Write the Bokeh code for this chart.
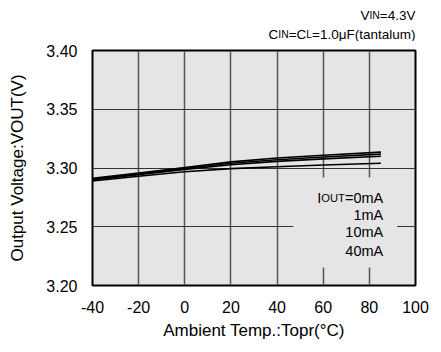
from bokeh.plotting import figure
from bokeh.layouts import column
from bokeh.models import Range1d, FixedTicker, Label
from bokeh.embed import file_html
from bokeh.resources import INLINE

# ---------------- data ----------------
temps = [-40, -20, 0, 20, 40, 60, 85]
vout_0mA = [3.2913, 3.2957, 3.3004, 3.3052, 3.3085, 3.3108, 3.3135]
vout_1mA = [3.2906, 3.2950, 3.2996, 3.3040, 3.3070, 3.3093, 3.3118]
vout_10mA = [3.2899, 3.2943, 3.2988, 3.3028, 3.3056, 3.3078, 3.3100]
vout_40mA = [3.2890, 3.2930, 3.2968, 3.2995, 3.3010, 3.3025, 3.3040]
series = [vout_0mA, vout_1mA, vout_10mA, vout_40mA]

x_ticks = [-40, -20, 0, 20, 40, 60, 80, 100]
x_tick_labels = ["-40", "-20", "0", "20", "40", "60", "80", "100"]
y_ticks = [3.20, 3.25, 3.30, 3.35, 3.40]
y_tick_labels = ["3.20", "3.25", "3.30", "3.35", "3.40"]
x_grid = [-20, 0, 20, 40, 60, 80]
y_grid = [3.25, 3.30, 3.35]

legend_labels = [[("I", "big"), ("OUT", "small"), ("=0mA", "big")],
                 [("1mA", "big")], [("10mA", "big")], [("40mA", "big")]]
header_lines = [[("V", "big"), ("IN", "small"), ("=4.3V", "big")],
                [("C", "big"), ("IN", "small"), ("=C", "big"), ("L", "small"),
                 ("=1.0\u03bcF(tantalum)", "big")]]
y_label = "Output Voltage:VOUT(V)"
x_label = "Ambient Temp.:Topr(\u00b0C)"

# ---------------- style / layout ----------------
FONT = "Liberation Sans"
BG = "#e5e5e5"
WIDTH, HEIGHT = 441, 352
HEAD_H = 41          # header strip height
ML, MR, MT, MB = 92, 26, 9, 67
FRAME_LEFT, FRAME_W = 92, 323
X0, X1, Y0, Y1 = -40, 100, 3.20, 3.40

W = {' ': 278, '(': 333, ')': 333, '.': 278, ':': 278, '=': 584, '-': 333,
     'A': 667, 'C': 722, 'F': 611, 'I': 278, 'L': 556, 'N': 722, 'O': 778,
     'T': 611, 'U': 722, 'V': 667, 'a': 556, 'b': 556, 'e': 556, 'g': 556,
     'i': 222, 'l': 222, 'm': 833, 'n': 556, 'o': 556, 'p': 556, 'r': 333,
     't': 278, 'u': 556, '\u03bc': 576, '\u00b0': 400}


def tw(s, size):
    return sum(W.get(c, 556) for c in s) / 1000.0 * size


def compose_right(fig, segs, x, y, big, small):
    cum = 0.0
    for text, kind in reversed(segs):
        size = big if kind == "big" else small
        fig.add_layout(Label(x=x, y=y, x_offset=-cum, text=text, text_align="right",
                             text_baseline="alphabetic", text_font=FONT,
                             text_font_size=f"{size}px", text_color="black"))
        cum += tw(text, size)


# ---------------- main plot ----------------
MAIN_H = HEIGHT - HEAD_H
p = figure(width=WIDTH, height=MAIN_H, x_range=Range1d(X0, X1),
           y_range=Range1d(Y0, Y1), output_backend="svg", toolbar_location=None,
           min_border_left=ML, min_border_right=MR, min_border_top=MT,
           min_border_bottom=MB, title=None)
p.background_fill_color = BG
p.border_fill_color = "white"
p.outline_line_color = "black"
p.outline_line_width = 2

for ax in (p.xaxis[0], p.yaxis[0]):
    ax.axis_line_color = None
    ax.major_tick_line_color = None
    ax.minor_tick_line_color = None
    ax.major_label_text_font = FONT
    ax.major_label_text_font_size = "16px"
    ax.major_label_text_color = "black"
    ax.axis_label_text_font = FONT
    ax.axis_label_text_font_size = "17px"
    ax.axis_label_text_font_style = "normal"
    ax.axis_label_text_color = "black"

p.xaxis.major_label_standoff = 9
p.yaxis.major_label_standoff = 9
p.xaxis.ticker = FixedTicker(ticks=x_ticks)
p.yaxis.ticker = FixedTicker(ticks=y_ticks)
p.xaxis.major_label_overrides = {t: l for t, l in zip(x_ticks, x_tick_labels)}
p.yaxis.major_label_overrides = {t: l for t, l in zip(y_ticks, y_tick_labels)}
p.xaxis.axis_label = x_label
p.xaxis.axis_label_standoff = 5
p.yaxis.axis_label = y_label
p.yaxis.axis_label_standoff = 16

p.xgrid.ticker = FixedTicker(ticks=x_grid)
p.ygrid.ticker = FixedTicker(ticks=y_grid)
p.xgrid.grid_line_color = "#555555"
p.xgrid.grid_line_width = 1.5
p.ygrid.grid_line_color = "#333333"
p.ygrid.grid_line_width = 1.2

# mask behind the legend text (gridlines interrupted there)
p.quad(left=47, right=92, bottom=3.2153, top=3.292, fill_color=BG, line_color=None)

for v in series:
    p.line(temps, v, line_color="black", line_width=1.6)

legend_y = [3.2745, 3.2604, 3.2455, 3.2294]
for segs, yy in zip(legend_labels, legend_y):
    compose_right(p, segs, 86, yy, 14.5, 11.2)

# ---------------- header strip (frame aligned with the main frame) ----------------
head = figure(width=WIDTH, height=HEAD_H,
              x_range=Range1d(FRAME_LEFT, FRAME_LEFT + FRAME_W),
              y_range=Range1d(0, HEAD_H), output_backend="svg",
              toolbar_location=None, min_border_left=ML, min_border_right=MR,
              min_border_top=0, min_border_bottom=0, x_axis_location=None,
              y_axis_location=None, title=None)
head.grid.visible = False
head.outline_line_color = None
head.background_fill_color = "white"
head.border_fill_color = "white"
header_baselines = [15, 34]          # strip pixels from top
for segs, by in zip(header_lines, header_baselines):
    compose_right(head, segs, FRAME_LEFT + FRAME_W, HEAD_H - by, 13.5, 10.4)

layout = column(head, p, spacing=0)
open("out.html", "w").write(file_html(layout, INLINE))
